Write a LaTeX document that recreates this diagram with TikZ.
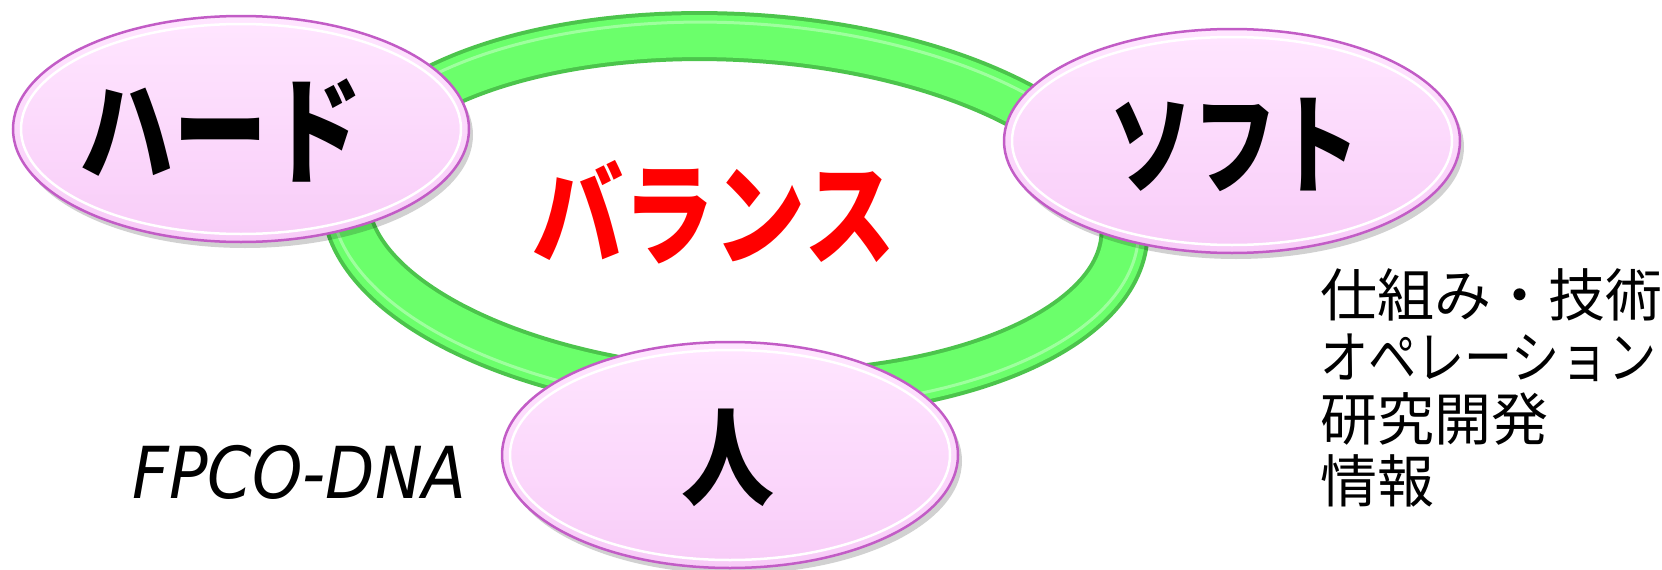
\documentclass[tikz,border=0pt]{standalone}
\usepackage{fontspec}
\usetikzlibrary{shapes.geometric}
\newfontfamily\jp{Noto Sans CJK JP}
\newfontfamily\latit{DejaVu Sans}[UprightFont=* Oblique]
\definecolor{pinktop}{HTML}{FFE6FF}
\definecolor{pinkbot}{HTML}{F8CCF8}
\definecolor{ellborder}{HTML}{C25CC6}
\definecolor{ringgreen}{HTML}{6BFF6B}
\definecolor{ringdark}{HTML}{4CC44C}
\definecolor{balred}{HTML}{FF0000}
\begin{document}
\begin{tikzpicture}[x=1pt,y=-1pt,
  pinkell/.style={ellipse, minimum width=456pt, minimum height=226pt, inner sep=0pt,
    draw=ellborder, line width=2.5pt, top color=pinktop, bottom color=pinkbot},
  bevel/.style={white, line width=2.5pt},
  ellshadow/.style={black, opacity=.18},
  bigjp/.style={font=\jp\bfseries\fontsize{100}{110}\selectfont, inner sep=0pt},
  listjp/.style={font=\jp\fontsize{57}{62}\selectfont, inner sep=0pt, anchor=base west},
]
\useasboundingbox (0,0) rectangle (1662,570);
% ring
\coordinate (rc) at (735,215);
\draw[ringdark, line width=50pt, rotate around={-3:(rc)}] (rc) ellipse [x radius=390pt, y radius=178pt];
\draw[ringgreen, line width=42pt, rotate around={-3:(rc)}] (rc) ellipse [x radius=390pt, y radius=178pt];
\draw[white, opacity=.35, line width=3pt, rotate around={-3:(rc)}] (rc) ellipse [x radius=404pt, y radius=192pt];
% shadows
\fill[ellshadow] (245,135) ellipse [x radius=228pt, y radius=113pt];
\fill[ellshadow] (1236,147) ellipse [x radius=228pt, y radius=112pt];
\fill[ellshadow] (734,461) ellipse [x radius=228pt, y radius=113pt];
% ellipses
\node[pinkell] (hard) at (241,129) {};
\draw[bevel] (hard.center) ellipse [x radius=220pt, y radius=105pt];
\node[pinkell, minimum height=224pt] (soft) at (1232,141) {};
\draw[bevel] (soft.center) ellipse [x radius=220pt, y radius=104pt];
\node[pinkell] (hito) at (730,455) {};
\draw[bevel] (hito.center) ellipse [x radius=220pt, y radius=105pt];
% labels
\node[bigjp] (hardt) at (221,130) {\scalebox{0.943}[1.175]{ハード}};
\node[bigjp] (softt) at (1235,145) {\scalebox{0.836}[1.09]{ソフト}};
\node[bigjp] (hitot) at (728,458) {\scalebox{0.93}[1.06]{人}};
\node[font=\jp\bfseries\fontsize{92}{100}\selectfont, text=balred, inner sep=0pt] (bal) at (714,212) {\scalebox{0.99}[1.22]{バランス}};
% list
\node[listjp] (l1) at (1320,316) {仕組み・技術};
\node[listjp] (l2) at (1320,378) {\scalebox{0.845}[1]{オペレーション}};
\node[listjp] (l3) at (1320,440) {研究開発};
\node[listjp] (l4) at (1320,502) {情報};
\node[font=\latit\fontsize{64}{70}\selectfont, anchor=base west, inner sep=0pt] (dna) at (132,498) {\scalebox{1}[1.12]{FPCO-DNA}};
\end{tikzpicture}
\end{document}
